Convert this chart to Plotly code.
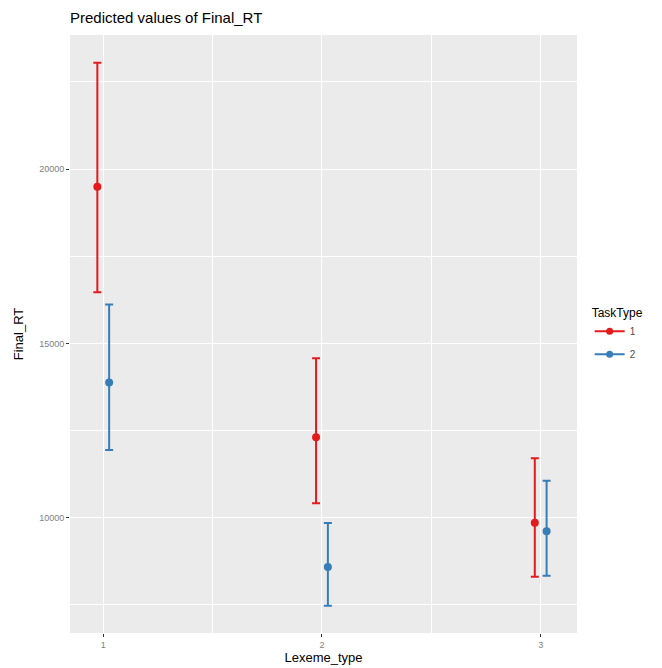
import plotly.graph_objects as go

lexeme = [1, 2, 3]
task_types = ["1", "2"]
pred_task1 = [19490, 12310, 9857]
low_task1 = [16463, 10413, 8307]
high_task1 = [23050, 14573, 11704]
pred_task2 = [13880, 8586, 9610]
low_task2 = [11938, 7475, 8336]
high_task2 = [16118, 9848, 11062]
y_ticks = [10000, 15000, 20000]
y_tick_labels = ["10000", "15000", "20000"]
dodge = [-0.027, 0.027]
colors = ["#E41A1C", "#377EB8"]

fig = go.Figure()
series = [(pred_task1, low_task1, high_task1), (pred_task2, low_task2, high_task2)]
for i, (pred, low, high) in enumerate(series):
    xs = [v + dodge[i] for v in lexeme]
    fig.add_trace(go.Scatter(
        x=xs, y=pred, mode="markers",
        marker=dict(color=colors[i], size=8),
        error_y=dict(type="data", symmetric=False,
                     array=[h - p for h, p in zip(high, pred)],
                     arrayminus=[p - l for p, l in zip(pred, low)],
                     color=colors[i], thickness=2, width=4),
        showlegend=False, name=task_types[i]))
for i, t in enumerate(task_types):
    fig.add_trace(go.Scatter(
        x=[None], y=[None], mode="lines+markers", name=t, legendgroup="g" + t,
        line=dict(color=colors[i], width=2),
        marker=dict(color=colors[i], size=7)))

axis_common = dict(showline=False, zeroline=False, ticks="outside", ticklen=3,
                   tickcolor="#333333", tickwidth=1, automargin=False,
                   tickfont=dict(family="Liberation Sans", size=9, color="#7f7f7f"),
                   gridcolor="white", gridwidth=1.1)

fig.update_xaxes(range=[0.848, 3.166], tickvals=lexeme, ticktext=[str(v) for v in lexeme],
                 title=dict(text="Lexeme_type", font=dict(family="Liberation Sans", size=13, color="black"), standoff=4),
                 minor=dict(tickvals=[1.5, 2.5], gridcolor="white", gridwidth=0.5, ticks=""),
                 **axis_common)
fig.update_yaxes(range=[6692, 23845], tickvals=y_ticks, ticktext=y_tick_labels,
                 title=dict(text="Final_RT", font=dict(family="Liberation Sans", size=13, color="black"), standoff=12),
                 minor=dict(tickvals=[7500, 12500, 17500, 22500], gridcolor="white", gridwidth=0.5, ticks=""),
                 **axis_common)

fig.update_layout(
    width=662, height=668,
    margin=dict(l=70, r=85, t=35, b=35),
    paper_bgcolor="white", plot_bgcolor="#EBEBEB",
    title=dict(text="Predicted values of Final_RT", x=70/662, xanchor="left",
               y=1 - 18/668, yanchor="middle",
               font=dict(family="Liberation Sans", size=15, color="black")),
    legend=dict(title=dict(text="TaskType", font=dict(family="Liberation Sans", size=12, color="black")),
                x=1.025, y=0.555, xanchor="left", yanchor="top",
                font=dict(family="Liberation Sans", size=10, color="#4d4d4d"),
                bgcolor="rgba(0,0,0,0)", itemwidth=30, tracegroupgap=4),
)

fig.write_html("out.html")
